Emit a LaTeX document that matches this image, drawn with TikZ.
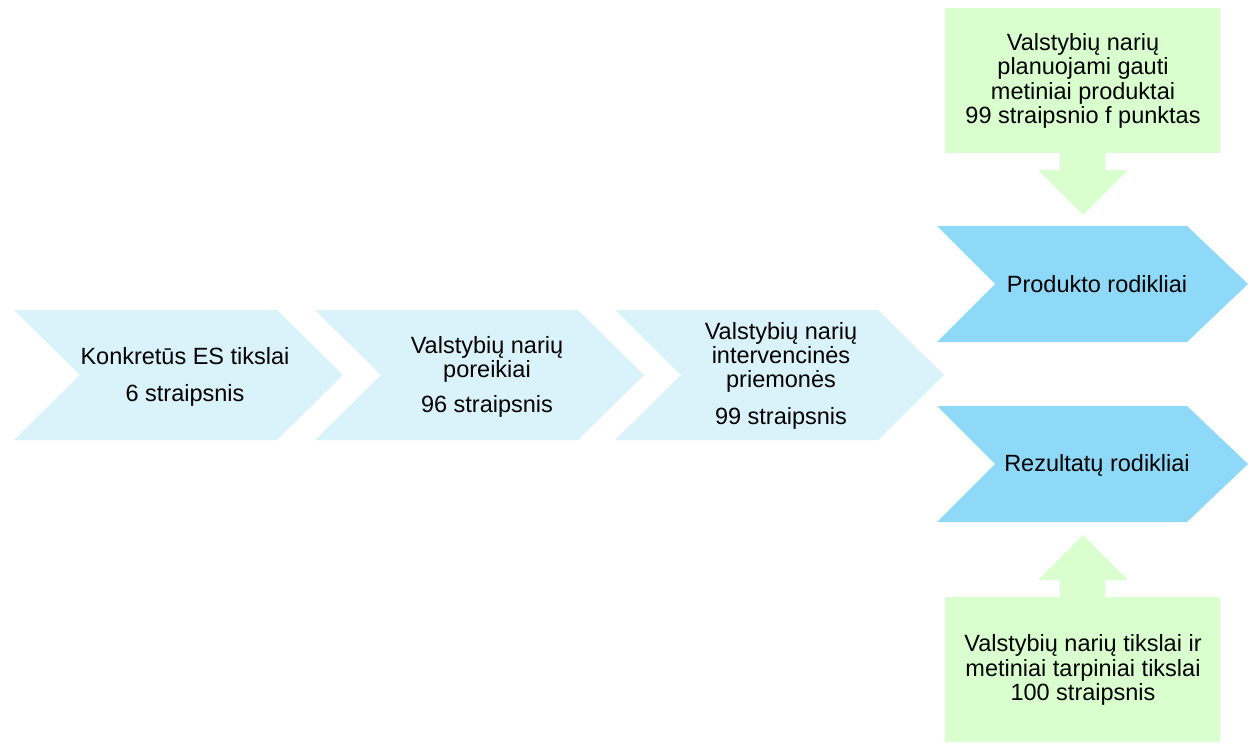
\documentclass[tikz,border=0pt]{standalone}
\usepackage{fontspec}
\setmainfont{Liberation Sans}
\definecolor{chevlight}{RGB}{218,243,250}
\definecolor{chevblue}{RGB}{143,217,248}
\definecolor{boxgreen}{RGB}{218,255,206}
\begin{document}
\begin{tikzpicture}[x=1pt,y=-1pt,
  txt/.style={align=center,font=\fontsize{23.5}{24.3}\selectfont,inner sep=0pt},
  lightchev/.style={fill=chevlight,draw=none},
  bluechev/.style={fill=chevblue,draw=none},
  greenshape/.style={fill=boxgreen,draw=none}]
\useasboundingbox[fill=white] (0,0) rectangle (1260,749);
% light chevrons
\foreach \x in {14,315,615}{
  \path[lightchev] (\x,310) -- (\x+263,310) -- (\x+329,375) -- (\x+263,440) -- (\x,440) -- (\x+66,375) -- cycle;
}
% blue chevrons
\path[bluechev] (937,226) -- (1187,226) -- (1248,284) -- (1187,342) -- (937,342) -- (995,284) -- cycle;
\path[bluechev] (937,406) -- (1187,406) -- (1248,464) -- (1187,522) -- (937,522) -- (995,464) -- cycle;
% green boxes
\path[greenshape] (945,8) rectangle (1220,153);
\path[greenshape] (1060,153) -- (1105,153) -- (1105,170) -- (1128,170) -- (1083,215) -- (1038,170) -- (1060,170) -- cycle;
\path[greenshape] (945,597) rectangle (1220,742);
\path[greenshape] (1060,597) -- (1105,597) -- (1105,580) -- (1128,580) -- (1083,535) -- (1038,580) -- (1060,580) -- cycle;
% texts
\node[txt] (c1) at (185,377) {Konkretūs ES tikslai\\[12.5pt]6 straipsnis};
\node[txt] (c2) at (487,377) {Valstybių narių\\poreikiai\\[11pt]96 straipsnis};
\node[txt] (c3) at (781,376) {Valstybių narių\\intervencinės\\priemonės\\[12.5pt]99 straipsnis};
\node[txt] (prod) at (1097,284) {Produkto rodikliai};
\node[txt] (rez) at (1097,465) {Rezultatų rodikliai};
\node[txt] (gtop) at (1083,81) {Valstybių narių\\planuojami gauti\\metiniai produktai\\99 straipsnio f punktas};
\node[txt] (gbot) at (1083,670) {Valstybių narių tikslai ir\\metiniai tarpiniai tikslai\\100 straipsnis};
\end{tikzpicture}
\end{document}
